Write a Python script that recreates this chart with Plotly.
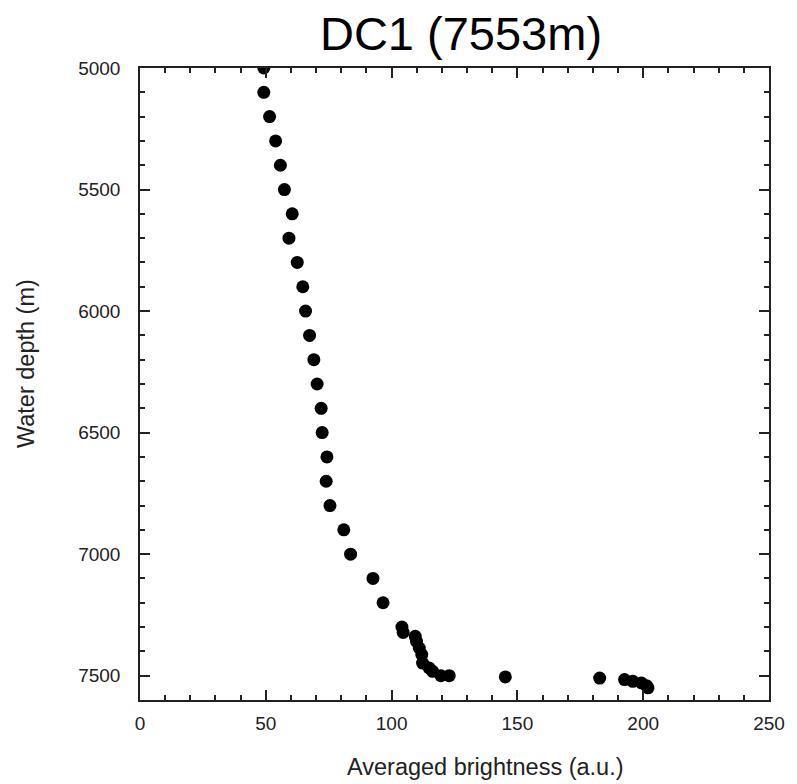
import plotly.graph_objects as go

brightness = [49.2, 49.2, 51.5, 53.9, 55.8, 57.4, 60.5, 59.2, 62.5, 64.7,
              65.8, 67.4, 69.1, 70.4, 72.0, 72.4, 74.3, 74.0, 75.5, 81.0,
              83.7, 92.6, 96.6, 104.1, 104.6, 109.4, 109.9, 111.0, 112.0,
              112.3, 114.9, 116.3, 119.6, 122.9, 145.2, 182.7, 192.6, 195.9,
              199.3, 201.3, 201.9]
depth = [5000, 5100, 5200, 5300, 5400, 5500, 5600, 5700, 5800, 5900,
         6000, 6100, 6200, 6300, 6400, 6500, 6600, 6700, 6800, 6900,
         7000, 7100, 7200, 7300, 7322, 7338, 7359, 7386, 7413,
         7448, 7468, 7482, 7500, 7500, 7505, 7510, 7516, 7523,
         7530, 7541, 7550]

x_ticks = [0, 50, 100, 150, 200, 250]
y_ticks = [5000, 5500, 6000, 6500, 7000, 7500]

FONT = "Liberation Sans, Arial, Helvetica"

fig = go.Figure()
fig.add_trace(go.Scatter(
    x=brightness, y=depth, mode="markers",
    marker=dict(color="black", size=13, line=dict(width=0)),
    showlegend=False,
))

axis_common = dict(
    showline=True, linecolor="#222", linewidth=1.5, mirror="allticks",
    ticks="inside", ticklen=10, tickwidth=1.5, tickcolor="#222",
    showgrid=False, zeroline=False,
    tickfont=dict(family=FONT, size=19, color="#222"),
)

fig.update_xaxes(
    **axis_common,
    range=[0, 250], tickvals=x_ticks, ticklabelstandoff=5,
    minor=dict(dtick=10, ticks="inside", ticklen=5, tickwidth=1.5, tickcolor="#222"),
)
fig.update_yaxes(
    **axis_common,
    range=[7600, 5000], tickvals=y_ticks, ticklabelstandoff=14,
    minor=dict(dtick=100, ticks="inside", ticklen=5, tickwidth=1.5, tickcolor="#222"),
)

# axis titles as annotations (they sit off-centre in the reference)
fig.add_annotation(text="Averaged brightness (a.u.)", xref="paper", yref="paper",
                   x=0.5485, y=-0.106, xanchor="center", yanchor="middle",
                   showarrow=False, font=dict(family=FONT, size=23.5, color="#222"))
fig.add_annotation(text="Water depth (m)", xref="paper", yref="paper",
                   x=-0.1812, y=0.5316, xanchor="center", yanchor="middle",
                   textangle=-90, showarrow=False,
                   font=dict(family=FONT, size=23.5, color="#222"))

fig.update_layout(
    width=797, height=784,
    margin=dict(l=132, r=36, t=60, b=92),
    paper_bgcolor="white", plot_bgcolor="white",
    title=dict(text="DC1 (7553m)", x=453 / 797, xanchor="center",
               y=1 - 26 / 784, yanchor="middle", yref="container",
               font=dict(family=FONT, size=47, color="black")),
)

fig.write_html("out.html")
